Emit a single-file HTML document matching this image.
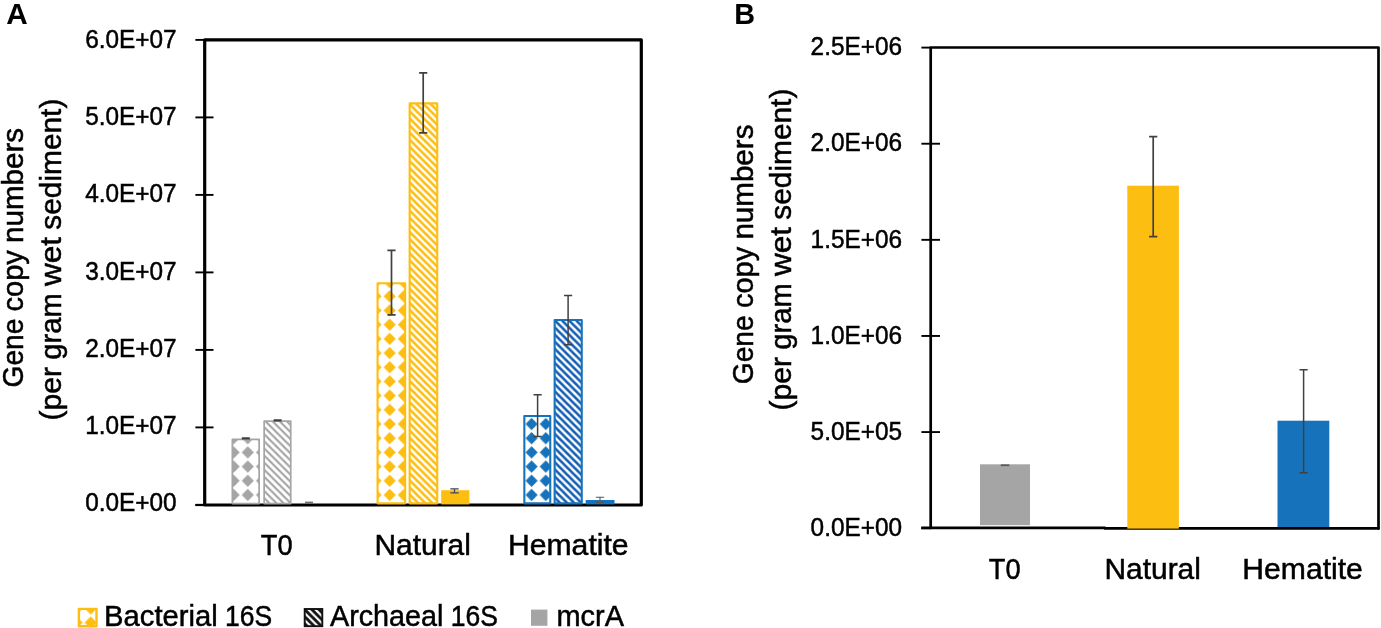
<!DOCTYPE html>
<html lang="en"><head><meta charset="utf-8"><title>Gene copy numbers</title>
<style>html,body{margin:0;padding:0;background:#fff;}body{width:1381px;height:628px;overflow:hidden;}svg{display:block;}</style>
</head><body>
<svg width="1381" height="628" viewBox="0 0 1381 628" font-family="'Liberation Sans', Arial, Helvetica, sans-serif">
<defs>
<pattern id="dg" patternUnits="userSpaceOnUse" x="13.665" y="5.415" width="14.19" height="14.19"><rect width="14.19" height="14.19" fill="#fff"/><polygon points="7.095,0.9950000000000001 13.195,7.095 7.095,13.195 0.9950000000000001,7.095" fill="#A5A5A5"/></pattern>
<pattern id="dy" patternUnits="userSpaceOnUse" x="13.665" y="5.415" width="14.19" height="14.19"><rect width="14.19" height="14.19" fill="#fff"/><polygon points="7.095,0.9950000000000001 13.195,7.095 7.095,13.195 0.9950000000000001,7.095" fill="#FDBE12"/></pattern>
<pattern id="db" patternUnits="userSpaceOnUse" x="13.665" y="5.415" width="14.19" height="14.19"><rect width="14.19" height="14.19" fill="#fff"/><polygon points="7.095,0.9950000000000001 13.195,7.095 7.095,13.195 0.9950000000000001,7.095" fill="#1673BB"/></pattern>
<pattern id="dl" patternUnits="userSpaceOnUse" x="12.655" y="5.335" width="14.19" height="14.19"><rect width="14.19" height="14.19" fill="#fff"/><polygon points="7.095,0.9950000000000001 13.195,7.095 7.095,13.195 0.9950000000000001,7.095" fill="#FDBE12"/></pattern>
<pattern id="sg" patternUnits="userSpaceOnUse" x="0.3" y="0" width="7.095" height="7.095"><rect width="7.095" height="7.095" fill="#fff"/><path d="M-2,-2 L9.094999999999999,9.094999999999999 M-9.094999999999999,-2 L2,9.094999999999999 M5.095,-2 L16.189999999999998,9.094999999999999" stroke="#A5A5A5" stroke-width="2.1" fill="none"/></pattern>
<pattern id="sy" patternUnits="userSpaceOnUse" x="0.3" y="0" width="7.095" height="7.095"><rect width="7.095" height="7.095" fill="#fff"/><path d="M-2,-2 L9.094999999999999,9.094999999999999 M-9.094999999999999,-2 L2,9.094999999999999 M5.095,-2 L16.189999999999998,9.094999999999999" stroke="#FDBE12" stroke-width="2.6" fill="none"/></pattern>
<pattern id="sb" patternUnits="userSpaceOnUse" x="0.3" y="0" width="7.095" height="7.095"><rect width="7.095" height="7.095" fill="#fff"/><path d="M-2,-2 L9.094999999999999,9.094999999999999 M-9.094999999999999,-2 L2,9.094999999999999 M5.095,-2 L16.189999999999998,9.094999999999999" stroke="#1560B4" stroke-width="2.6" fill="none"/></pattern>
<pattern id="sk" patternUnits="userSpaceOnUse" x="0.3" y="0" width="7.095" height="7.095"><rect width="7.095" height="7.095" fill="#fff"/><path d="M-2,-2 L9.094999999999999,9.094999999999999 M-9.094999999999999,-2 L2,9.094999999999999 M5.095,-2 L16.189999999999998,9.094999999999999" stroke="#111" stroke-width="2.9" fill="none"/></pattern>
</defs>
<rect width="1381" height="628" fill="#fff"/>
<path d="M204.7,39.9 H641.3 V505.0 H204.7 Z" fill="none" stroke="#000" stroke-width="3.2" stroke-linejoin="round"/>
<path d="M195.4,505.0 H204.7" fill="none" stroke="#000" stroke-width="2.2"/>
<rect x="232.35" y="439.35" width="26.80" height="64.20" fill="url(#dg)" stroke="#A5A5A5" stroke-width="1.7" stroke-linejoin="round"/>
<rect x="264.15" y="421.05" width="26.60" height="82.50" fill="url(#sg)" stroke="#A5A5A5" stroke-width="1.7" stroke-linejoin="round"/>
<rect x="377.55" y="283.25" width="27.60" height="220.10" fill="url(#dy)" stroke="#FDBE12" stroke-width="2.1" stroke-linejoin="round"/>
<rect x="409.65" y="103.35" width="27.60" height="400.00" fill="url(#sy)" stroke="#FDBE12" stroke-width="2.1" stroke-linejoin="round"/>
<rect x="524.35" y="416.05" width="25.90" height="87.30" fill="url(#db)" stroke="#1673BB" stroke-width="2.1" stroke-linejoin="round"/>
<rect x="554.65" y="319.95" width="27.10" height="183.40" fill="url(#sb)" stroke="#1673BB" stroke-width="2.1" stroke-linejoin="round"/>
<rect x="441.20" y="490.20" width="28.20" height="14.20" fill="#FDBE12"/>
<rect x="585.70" y="500.00" width="28.80" height="4.40" fill="#1673BB"/>
<path d="M245.80,437.90 V438.90 M241.80,437.90 h8 M241.80,438.90 h8" stroke="#404040" stroke-width="1.2" fill="none"/>
<path d="M277.60,419.90 V420.90 M273.60,419.90 h8 M273.60,420.90 h8" stroke="#404040" stroke-width="1.2" fill="none"/>
<rect x="305" y="501.6" width="8" height="2" fill="#707070"/>
<path d="M391.50,250.30 V314.80 M387.40,250.30 h8.2 M387.40,314.80 h8.2" stroke="#404040" stroke-width="1.7" fill="none"/>
<path d="M423.20,72.80 V132.80 M419.10,72.80 h8.2 M419.10,132.80 h8.2" stroke="#404040" stroke-width="1.7" fill="none"/>
<path d="M454.50,488.80 V492.80 M450.30,488.80 h8.4 M450.30,492.80 h8.4" stroke="#3c4460" stroke-width="1.3" fill="none"/>
<path d="M537.60,394.80 V436.40 M533.50,394.80 h8.2 M533.50,436.40 h8.2" stroke="#404040" stroke-width="1.5" fill="none"/>
<path d="M568.10,295.50 V344.70 M564.00,295.50 h8.2 M564.00,344.70 h8.2" stroke="#404040" stroke-width="1.5" fill="none"/>
<path d="M600.00,497.20 V502.40 M595.90,497.20 h8.2 M595.90,502.40 h8.2" stroke="#555" stroke-width="1.1" fill="none"/>
<path d="M195.4,504.90 H204.7" stroke="#000" stroke-width="1.9"/>
<text x="85.20" y="511.00" font-size="26.0" textLength="91.45" lengthAdjust="spacingAndGlyphs" fill="#000" stroke="#000" stroke-width="0.5">0.0E+00</text>
<path d="M195.4,427.40 H213.5" stroke="#000" stroke-width="1.9"/>
<text x="85.20" y="433.85" font-size="26.0" textLength="91.45" lengthAdjust="spacingAndGlyphs" fill="#000" stroke="#000" stroke-width="0.5">1.0E+07</text>
<path d="M195.4,349.90 H213.5" stroke="#000" stroke-width="1.9"/>
<text x="85.20" y="356.70" font-size="26.0" textLength="91.45" lengthAdjust="spacingAndGlyphs" fill="#000" stroke="#000" stroke-width="0.5">2.0E+07</text>
<path d="M195.4,272.40 H213.5" stroke="#000" stroke-width="1.9"/>
<text x="85.20" y="279.55" font-size="26.0" textLength="91.45" lengthAdjust="spacingAndGlyphs" fill="#000" stroke="#000" stroke-width="0.5">3.0E+07</text>
<path d="M195.4,194.90 H213.5" stroke="#000" stroke-width="1.9"/>
<text x="85.20" y="202.40" font-size="26.0" textLength="91.45" lengthAdjust="spacingAndGlyphs" fill="#000" stroke="#000" stroke-width="0.5">4.0E+07</text>
<path d="M195.4,117.40 H213.5" stroke="#000" stroke-width="1.9"/>
<text x="85.20" y="125.25" font-size="26.0" textLength="91.45" lengthAdjust="spacingAndGlyphs" fill="#000" stroke="#000" stroke-width="0.5">5.0E+07</text>
<path d="M195.4,39.90 H204.7" stroke="#000" stroke-width="1.9"/>
<text x="85.20" y="48.10" font-size="26.0" textLength="91.45" lengthAdjust="spacingAndGlyphs" fill="#000" stroke="#000" stroke-width="0.5">6.0E+07</text>
<text x="6.30" y="24.00" font-size="29.0" textLength="21.50" lengthAdjust="spacingAndGlyphs" font-weight="bold" fill="#000">A</text>
<text transform="translate(22.90,387.50) rotate(-90)" font-size="29.6" fill="#000" stroke="#000" stroke-width="0.5" xml:space="preserve"><tspan x="0.00" y="0.00" textLength="68.84" lengthAdjust="spacingAndGlyphs">Gene</tspan> <tspan x="76.08" y="0.00" textLength="61.28" lengthAdjust="spacingAndGlyphs">copy</tspan> <tspan x="144.59" y="0.00" textLength="115.05" lengthAdjust="spacingAndGlyphs">numbers</tspan></text>
<text transform="translate(61.40,420.50) rotate(-90)" font-size="29.6" fill="#000" stroke="#000" stroke-width="0.5" xml:space="preserve"><tspan x="0.00" y="0.00" textLength="53.59" lengthAdjust="spacingAndGlyphs">(per</tspan> <tspan x="60.83" y="0.00" textLength="66.45" lengthAdjust="spacingAndGlyphs">gram</tspan> <tspan x="134.52" y="0.00" textLength="49.06" lengthAdjust="spacingAndGlyphs">wet</tspan> <tspan x="190.81" y="0.00" textLength="131.02" lengthAdjust="spacingAndGlyphs">sediment)</tspan></text>
<text x="260.80" y="555.00" font-size="29.6" textLength="31.81" lengthAdjust="spacingAndGlyphs" fill="#000" stroke="#000" stroke-width="0.5">T0</text>
<text x="374.50" y="555.00" font-size="29.6" textLength="96.39" lengthAdjust="spacingAndGlyphs" fill="#000" stroke="#000" stroke-width="0.5">Natural</text>
<text x="508.00" y="555.00" font-size="29.6" textLength="120.58" lengthAdjust="spacingAndGlyphs" fill="#000" stroke="#000" stroke-width="0.5">Hematite</text>
<rect x="78.9" y="608.9" width="17.6" height="17.4" fill="url(#dl)" stroke="#FDBE12" stroke-width="2.4" stroke-linejoin="round"/>
<text font-size="29.6" fill="#000" stroke="#000" stroke-width="0.5" xml:space="preserve"><tspan x="104.10" y="626.40" textLength="113.73" lengthAdjust="spacingAndGlyphs">Bacterial</tspan> <tspan x="225.07" y="626.40" textLength="47.14" lengthAdjust="spacingAndGlyphs">16S</tspan></text>
<rect x="304.7" y="609.0" width="17.6" height="17.2" fill="url(#sk)" stroke="#111" stroke-width="1.9"/>
<text font-size="29.6" fill="#000" stroke="#000" stroke-width="0.5" xml:space="preserve"><tspan x="330.00" y="626.40" textLength="113.47" lengthAdjust="spacingAndGlyphs">Archaeal</tspan> <tspan x="450.70" y="626.40" textLength="47.14" lengthAdjust="spacingAndGlyphs">16S</tspan></text>
<rect x="531.0" y="609.6" width="16.4" height="16.2" fill="#A5A5A5"/>
<text x="556.50" y="626.40" font-size="29.6" textLength="67.50" lengthAdjust="spacingAndGlyphs" fill="#000" stroke="#000" stroke-width="0.5">mcrA</text>
<rect x="980.00" y="464.30" width="50.00" height="60.90" fill="#A5A5A5"/>
<rect x="1277.50" y="420.70" width="51.80" height="106.70" fill="#1673BB"/>
<path d="M930.7,528.0 V47.5 H1378.5 V528.4" fill="none" stroke="#000" stroke-width="2.7" stroke-linejoin="round" stroke-linecap="round"/>
<path d="M921.2,527.9 H1105.5" fill="none" stroke="#000" stroke-width="2.6"/>
<path d="M1105,528.4 H1378.5" fill="none" stroke="#000" stroke-width="2.7" stroke-linecap="round"/>
<rect x="1127.30" y="185.70" width="51.60" height="342.90" fill="#FDBE12"/>
<rect x="1000.8" y="464.4" width="8.5" height="1.7" fill="#585858"/>
<path d="M1153.20,136.70 V236.70 M1149.10,136.70 h8.2 M1149.10,236.70 h8.2" stroke="#404040" stroke-width="1.7" fill="none"/>
<path d="M1303.60,369.80 V472.80 M1299.50,369.80 h8.2 M1299.50,472.80 h8.2" stroke="#404040" stroke-width="1.5" fill="none"/>
<path d="M921.4,528.20 H930.7" stroke="#000" stroke-width="1.9"/>
<text x="810.60" y="536.10" font-size="26.0" textLength="91.45" lengthAdjust="spacingAndGlyphs" fill="#000" stroke="#000" stroke-width="0.5">0.0E+00</text>
<path d="M921.4,432.08 H940.0" stroke="#000" stroke-width="1.9"/>
<text x="810.60" y="439.90" font-size="26.0" textLength="91.45" lengthAdjust="spacingAndGlyphs" fill="#000" stroke="#000" stroke-width="0.5">5.0E+05</text>
<path d="M921.4,335.96 H940.0" stroke="#000" stroke-width="1.9"/>
<text x="810.60" y="343.70" font-size="26.0" textLength="91.45" lengthAdjust="spacingAndGlyphs" fill="#000" stroke="#000" stroke-width="0.5">1.0E+06</text>
<path d="M921.4,239.84 H940.0" stroke="#000" stroke-width="1.9"/>
<text x="810.60" y="247.50" font-size="26.0" textLength="91.45" lengthAdjust="spacingAndGlyphs" fill="#000" stroke="#000" stroke-width="0.5">1.5E+06</text>
<path d="M921.4,143.72 H940.0" stroke="#000" stroke-width="1.9"/>
<text x="810.60" y="151.30" font-size="26.0" textLength="91.45" lengthAdjust="spacingAndGlyphs" fill="#000" stroke="#000" stroke-width="0.5">2.0E+06</text>
<path d="M921.4,47.60 H930.7" stroke="#000" stroke-width="1.9"/>
<text x="810.60" y="55.10" font-size="26.0" textLength="91.45" lengthAdjust="spacingAndGlyphs" fill="#000" stroke="#000" stroke-width="0.5">2.5E+06</text>
<text x="734.20" y="24.00" font-size="28.8" font-weight="bold" fill="#000">B</text>
<text transform="translate(753.40,384.20) rotate(-90)" font-size="29.6" fill="#000" stroke="#000" stroke-width="0.5" xml:space="preserve"><tspan x="0.00" y="0.00" textLength="68.84" lengthAdjust="spacingAndGlyphs">Gene</tspan> <tspan x="76.08" y="0.00" textLength="61.28" lengthAdjust="spacingAndGlyphs">copy</tspan> <tspan x="144.59" y="0.00" textLength="115.05" lengthAdjust="spacingAndGlyphs">numbers</tspan></text>
<text transform="translate(791.20,410.50) rotate(-90)" font-size="29.6" fill="#000" stroke="#000" stroke-width="0.5" xml:space="preserve"><tspan x="0.00" y="0.00" textLength="53.59" lengthAdjust="spacingAndGlyphs">(per</tspan> <tspan x="60.83" y="0.00" textLength="66.45" lengthAdjust="spacingAndGlyphs">gram</tspan> <tspan x="134.52" y="0.00" textLength="49.06" lengthAdjust="spacingAndGlyphs">wet</tspan> <tspan x="190.81" y="0.00" textLength="131.02" lengthAdjust="spacingAndGlyphs">sediment)</tspan></text>
<text x="988.80" y="578.80" font-size="29.6" textLength="31.81" lengthAdjust="spacingAndGlyphs" fill="#000" stroke="#000" stroke-width="0.5">T0</text>
<text x="1104.50" y="578.80" font-size="29.6" textLength="96.39" lengthAdjust="spacingAndGlyphs" fill="#000" stroke="#000" stroke-width="0.5">Natural</text>
<text x="1242.30" y="578.80" font-size="29.6" textLength="120.58" lengthAdjust="spacingAndGlyphs" fill="#000" stroke="#000" stroke-width="0.5">Hematite</text>
</svg>
</body></html>
